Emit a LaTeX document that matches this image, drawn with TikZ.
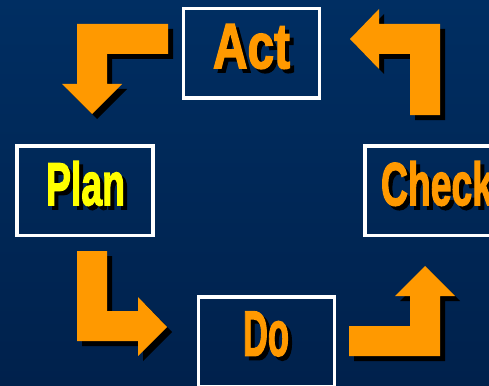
\documentclass[tikz,border=0pt]{standalone}
\usepackage{fontspec}
\setmainfont{Liberation Sans}[BoldFeatures={FakeBold=2.5}]
\usepackage{graphicx}

\definecolor{navytop}{RGB}{0,46,98}
\definecolor{navybot}{RGB}{0,33,76}
\definecolor{pdcaorange}{RGB}{255,153,0}
\definecolor{pdcayellow}{RGB}{255,255,0}

\tikzset{
  stepframe/.style={draw=white, line width=3.5pt, minimum width=136pt,
    minimum height=89.5pt, inner sep=0pt},
  word/.style={inner sep=0pt, font=\bfseries},
  wordshadow/.style={word, text=black}
}

\begin{document}
\begin{tikzpicture}[x=1pt, y=-1pt]

  \newcommand\W[2]{\resizebox{#1}{44pt}{#2}};
  \newcommand\bent[1]{\fill[black, shift={(5,5)}] #1; \fill[pdcaorange] #1;};

  \clip (0,0) rectangle (489,385);
  \shade[top color=navytop, bottom color=navybot] (0,0) rectangle (489,385);

  % the four steps
  \node[stepframe] (act)   at (251.5, 53.5) {};
  \node[stepframe] (plan)  at (85,   190.5) {};
  \node[stepframe] (check) at (433,  190.5) {};
  \node[stepframe] (do)    at (266.5,341.5) {};

  \node[wordshadow] at ([shift={(4pt,3pt)}]act.center) {\W{77pt}{Act}};
  \node[word, text=pdcaorange] (actword) at ([yshift=7pt]act.center) {\W{77pt}{Act}};

  \node[wordshadow] at ([shift={(4.5pt,3pt)}]plan.center) {\W{79pt}{Plan}};
  \node[word, text=pdcayellow] (planword) at ([shift={(0.5pt,7pt)}]plan.center) {\W{79pt}{Plan}};

  \node[wordshadow] at ([shift={(8pt,3pt)}]check.center) {\W{112pt}{Check}};
  \node[word, text=pdcaorange] (checkword) at ([shift={(4pt,7pt)}]check.center) {\W{112pt}{Check}};

  \node[wordshadow] at ([shift={(3.5pt,3.5pt)}]do.center) {\W{46pt}{Do}};
  \node[word, text=pdcaorange] (doword) at ([shift={(-0.5pt,7.5pt)}]do.center) {\W{46pt}{Do}};

  % bent arrows, act -> plan -> do -> check -> act
  \bent{(168,24) -- (77,24) -- (77,84) -- (62,84) -- (92,114) -- (122,84) -- (107,84) -- (107,54) -- (168,54) -- cycle}
  \bent{(77,251) -- (107,251) -- (107,311) -- (138,311) -- (138,297) -- (167,327) -- (138,356) -- (138,341) -- (77,341) -- cycle}
  \bent{(349,326) -- (410,326) -- (410,296) -- (395,296) -- (425,266) -- (455,296) -- (440,296) -- (440,356) -- (349,356) -- cycle}
  \bent{(410,115) -- (440,115) -- (440,24) -- (379,24) -- (379,9) -- (350,39) -- (379,69) -- (379,54) -- (410,54) -- cycle}

\end{tikzpicture}
\end{document}
